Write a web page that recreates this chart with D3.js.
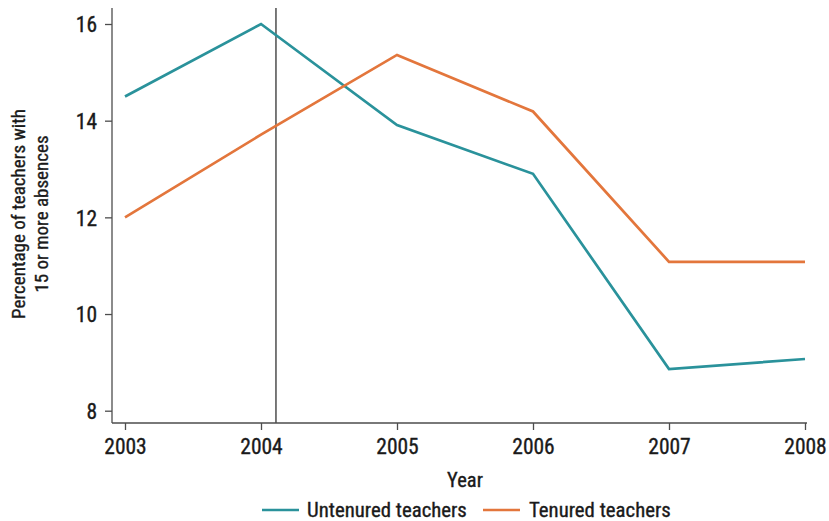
<!DOCTYPE html>
<html>
<head>
<meta charset="utf-8">
<script src="https://cdn.jsdelivr.net/npm/d3@7"></script>
<style>
  html, body { margin: 0; padding: 0; background: #fff; }
  svg text { font-family: "Liberation Sans Narrow", "Arial Narrow", "Roboto Condensed", sans-serif; fill: #1a1a1a; stroke: #1a1a1a; stroke-width: 0.35px; }
</style>
</head>
<body>
<svg id="chart" width="829" height="521"></svg>
<script>
// Share of teachers with 15 or more absences, by tenure status
const years = [2003, 2004, 2005, 2006, 2007, 2008];
const untenured = [14.5, 16.0, 13.91, 12.9, 8.86, 9.07];
const tenured = [12.0, 13.71, 15.36, 14.19, 11.08, 11.08];
const yTicks = [8, 10, 12, 14, 16];
const markerYear = 2004.11;
const seriesNames = ["Untenured teachers", "Tenured teachers"];
const seriesColors = ["#2a929b", "#e3763c"];

const svg = d3.select("#chart");
const axisColor = "#4d4d4d";

const x = d3.scaleLinear().domain([2003, 2008]).range([125, 805]);
const y = d3.scaleLinear().domain([8, 16]).range([410.7, 24]);

const plotLeft = 112, plotBottom = 423, plotTop = 8, plotRight = 807;

// y axis
const yAxis = svg.append("g")
  .attr("transform", `translate(${plotLeft},0)`)
  .call(d3.axisLeft(y).tickValues(yTicks).tickSize(7).tickPadding(8).tickFormat(d3.format("d")));
yAxis.select(".domain").remove();
yAxis.append("line").attr("x1", 0).attr("x2", 0).attr("y1", plotTop).attr("y2", plotBottom)
  .attr("stroke", axisColor).attr("stroke-width", 1.3);
yAxis.selectAll(".tick line").attr("stroke", axisColor).attr("stroke-width", 1.3);
yAxis.selectAll(".tick text").style("font-size", "21.5px").attr("dy", "0.36em");

// x axis
const xAxis = svg.append("g")
  .attr("transform", `translate(0,${plotBottom})`)
  .call(d3.axisBottom(x).tickValues(years).tickSize(7).tickPadding(9).tickFormat(d3.format("d")));
xAxis.select(".domain").remove();
xAxis.append("line").attr("x1", plotLeft).attr("x2", plotRight).attr("y1", 0).attr("y2", 0)
  .attr("stroke", axisColor).attr("stroke-width", 1.3);
xAxis.selectAll(".tick line").attr("stroke", axisColor).attr("stroke-width", 1.3);
xAxis.selectAll(".tick text").style("font-size", "21.5px");

// axis titles
svg.append("text").attr("x", x(2005.5)).attr("y", 487).attr("text-anchor", "middle")
  .style("font-size", "20.5px").text("Year");
const yt = svg.append("text").attr("transform", "translate(25,214) rotate(-90)")
  .attr("text-anchor", "middle").style("font-size", "19px");
yt.append("tspan").attr("x", 0).attr("dy", 0).text("Percentage of teachers with");
yt.append("tspan").attr("x", 0).attr("dy", "1.2em").text("15 or more absences");

// reference line
svg.append("line").attr("x1", x(markerYear)).attr("x2", x(markerYear))
  .attr("y1", plotTop).attr("y2", plotBottom)
  .attr("stroke", axisColor).attr("stroke-width", 1.5);

// series lines
const line = d3.line().x((d, i) => x(years[i])).y(d => y(d));
[untenured, tenured].forEach((vals, k) => {
  svg.append("path").datum(vals).attr("d", line)
    .attr("fill", "none").attr("stroke", seriesColors[k]).attr("stroke-width", 2.7)
    .attr("stroke-linejoin", "miter");
});

// legend
const legendItems = [{x: 262, tx: 307}, {x: 483, tx: 529}];
legendItems.forEach((p, k) => {
  svg.append("line").attr("x1", p.x).attr("x2", p.x + 37).attr("y1", 510).attr("y2", 510)
    .attr("stroke", seriesColors[k]).attr("stroke-width", 2.7);
  svg.append("text").attr("x", p.tx).attr("y", 510).attr("dy", "0.36em")
    .style("font-size", "20.8px").text(seriesNames[k]);
});
</script>
</body>
</html>
